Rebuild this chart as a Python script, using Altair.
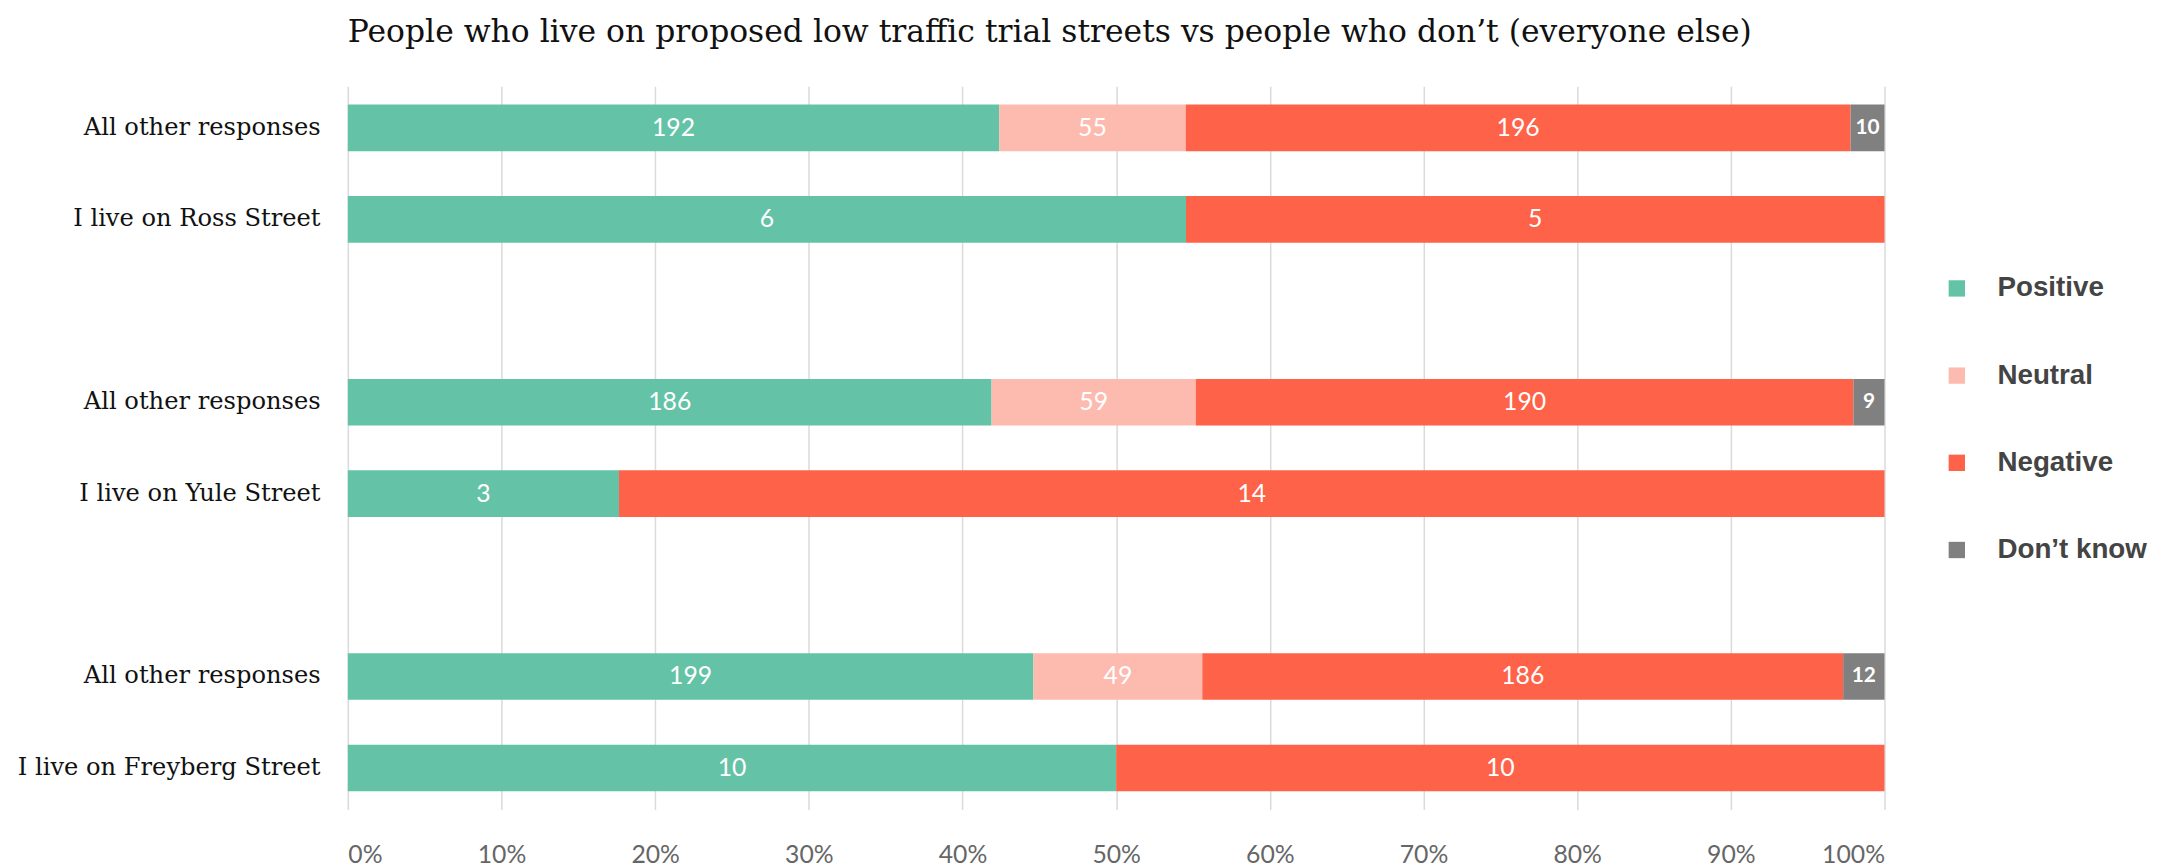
import altair as alt
import pandas as pd

# ---- data ----
row_keys = ["r0", "r1", "r2", "r3", "r4", "r5", "r6", "r7"]
row_labels = ["All other responses", "I live on Ross Street", "",
              "All other responses", "I live on Yule Street", "",
              "All other responses", "I live on Freyberg Street"]

categories = ["Positive", "Neutral", "Negative", "Don’t know"]
colors = ["#64c3a6", "#fdbbb0", "#fe6248", "#808080"]

bar_rows = ["r0", "r1", "r3", "r4", "r6", "r7"]
positive = [192, 6, 186, 3, 199, 10]
neutral = [55, 0, 59, 0, 49, 0]
negative = [196, 5, 190, 14, 186, 10]
dont_know = [10, 0, 9, 0, 12, 0]

tick_values = [0, 0.1, 0.2, 0.3, 0.4, 0.5, 0.6, 0.7, 0.8, 0.9, 1.0]

series = [positive, neutral, negative, dont_know]
records = []
for i, r in enumerate(bar_rows):
    for k, cat in enumerate(categories):
        v = series[k][i]
        if v > 0:
            records.append({"row": r, "category": cat, "ord": k, "value": v})
df = pd.DataFrame(records)

label_array = "[" + ",".join("'" + s + "'" for s in row_labels) + "]"
label_expr = label_array + "[toNumber(substring(datum.value, 1))]"

y_enc = alt.Y(
    "row:N",
    scale=alt.Scale(domain=row_keys, paddingInner=0.49, paddingOuter=0.2),
    axis=alt.Axis(
        title=None, labelExpr=label_expr, domain=False, ticks=False,
        labelFont="DejaVu Serif", labelFontSize=24.4, labelColor="#111111",
        labelPadding=28, minExtent=338, maxExtent=338, labelLimit=400,
    ),
)

x_scale = alt.Scale(domain=[0, 1], nice=False)

base = alt.Chart(df)

bars = base.mark_bar().encode(
    x=alt.X(
        "value:Q", stack="normalize", scale=x_scale,
        axis=alt.Axis(
            title=None, format=".0%", values=tick_values, domain=False,
            ticks=False, grid=True, gridColor="#dadada", gridWidth=1.5,
            labelFont="Lato", labelFontSize=25, labelColor="#666666",
            labelPadding=33,
        ),
    ),
    y=y_enc,
    color=alt.Color(
        "category:N",
        scale=alt.Scale(domain=categories, range=colors),
        legend=alt.Legend(
            title=None, orient="none", legendX=1610, legendY=190,
            symbolType="square", symbolSize=272, symbolStrokeWidth=0,
            labelFont="Liberation Sans", labelFontWeight="bold",
            labelFontSize=28, labelColor="#444444", rowPadding=60,
            labelOffset=27, padding=0,
        ),
    ),
    order=alt.Order("ord:Q"),
)

text_base = base.transform_joinaggregate(
    total="sum(value)", groupby=["row"]
).transform_window(
    cum="sum(value)", groupby=["row"], sort=[alt.SortField("ord")],
    frame=[None, 0],
).transform_calculate(
    mid="(datum.cum - datum.value / 2) / datum.total"
)

text_enc = dict(
    x=alt.X("mid:Q", scale=x_scale, title=None),
    y=y_enc,
    text=alt.Text("value:Q"),
)

labels_main = text_base.transform_filter(
    alt.datum.category != "Don’t know"
).mark_text(
    color="white", font="Lato", fontSize=25, align="center", baseline="middle"
).encode(**text_enc)

labels_dk = text_base.transform_filter(
    alt.datum.category == "Don’t know"
).mark_text(
    color="white", font="Lato", fontSize=21, fontWeight="bold",
    align="center", baseline="middle"
).encode(**text_enc)

chart = alt.layer(bars, labels_main, labels_dk).properties(
    width=1551,
    height=730,
    title=alt.TitleParams(
        text="People who live on proposed low traffic trial streets vs people who don’t (everyone else)",
        anchor="start", frame="group", font="DejaVu Serif", fontSize=31.7,
        fontWeight="normal", color="#111111", offset=38,
    ),
).configure_view(stroke=None)

chart.save("out.html", embed_options={"renderer": "svg", "actions": False})
